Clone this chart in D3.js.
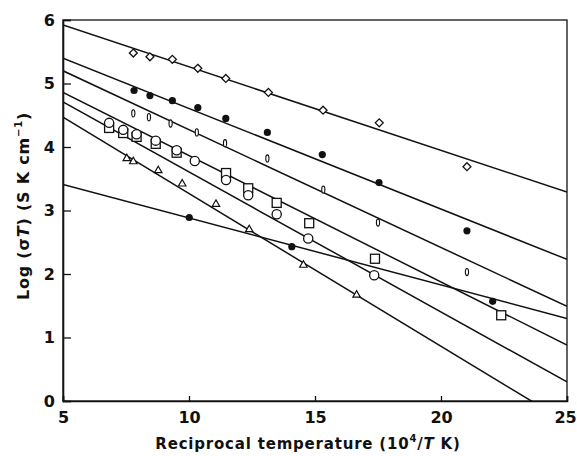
<!DOCTYPE html>
<html><head><meta charset="utf-8">
<script src="https://cdn.jsdelivr.net/npm/d3@7"></script>
<style>body{margin:0;background:#fff}svg{display:block}text{font-family:"DejaVu Sans",sans-serif;fill:#111}</style>
</head><body><svg id="c" width="577" height="456"></svg>
<script>
const xTicks = [5, 10, 15, 20, 25];
const yTicks = [0, 1, 2, 3, 4, 5, 6];

const diamondX = [7.79, 8.45, 9.34, 10.35, 11.46, 13.15, 15.32, 17.55, 21.03];
const diamondY = [5.48, 5.42, 5.38, 5.24, 5.08, 4.86, 4.58, 4.38, 3.69];
const dotX = [7.82, 8.45, 9.34, 10.35, 11.46, 13.11, 15.29, 17.54, 21.03];
const dotY = [4.89, 4.81, 4.73, 4.62, 4.45, 4.23, 3.88, 3.44, 2.68];
const ovalX = [7.79, 8.41, 9.27, 10.31, 11.43, 13.11, 15.33, 17.5, 21.03];
const ovalY = [4.53, 4.47, 4.37, 4.23, 4.06, 3.82, 3.33, 2.81, 2.03];
const squareX = [6.83, 7.39, 7.92, 8.68, 9.51, 11.47, 12.35, 13.48, 14.77, 17.38, 22.39];
const squareY = [4.30, 4.22, 4.16, 4.05, 3.91, 3.59, 3.35, 3.12, 2.80, 2.24, 1.35];
const circleX = [6.83, 7.39, 7.92, 8.68, 9.51, 10.23, 11.47, 12.35, 13.48, 14.73, 17.35];
const circleY = [4.38, 4.27, 4.20, 4.10, 3.95, 3.78, 3.48, 3.24, 2.94, 2.56, 1.98];
const triX = [7.53, 7.79, 8.78, 9.73, 11.07, 12.39, 14.54, 16.65];
const triY = [3.82, 3.77, 3.63, 3.42, 3.10, 2.70, 2.14, 1.67];
const dot2X = [10.01, 14.08, 22.05];
const dot2Y = [2.89, 2.43, 1.57];

// fitted straight lines: value at x=5 and at x=25
const fitX = [5, 25];
const fitStart = [5.92, 5.40, 5.20, 4.86, 4.71, 4.47, 3.41];
const fitEnd = [3.29, 2.23, 1.49, 0.88, 0.30, -0.34, 1.30];

const svg = d3.select("#c");
const L = 63, R = 567, T = 20, B = 401;
const x = d3.scaleLinear().domain([5, 25]).range([L, R]);
const y = d3.scaleLinear().domain([0, 6]).range([B, T]);

svg.append("defs").append("clipPath").attr("id", "clip")
  .append("rect").attr("x", L).attr("y", T).attr("width", R - L).attr("height", B - T);

// frame
svg.append("rect").attr("x", L).attr("y", T).attr("width", R - L).attr("height", B - T)
  .attr("fill", "none").attr("stroke", "#111").attr("stroke-width", 1.3);

// axes with inward ticks
const xAxis = d3.axisBottom(x).tickValues(xTicks).tickSize(-5).tickPadding(11).tickFormat(d3.format("d"));
const gx = svg.append("g").attr("transform", `translate(0,${B})`).call(xAxis);
const yAxis = d3.axisLeft(y).tickValues(yTicks).tickSize(-8).tickPadding(12).tickFormat(d3.format("d"));
const gy = svg.append("g").attr("transform", `translate(${L},0)`).call(yAxis);
[gx, gy].forEach(g => {
  g.select(".domain").attr("stroke", "#111").attr("stroke-width", 1.6);
  g.selectAll(".tick line").attr("stroke", "#111").attr("stroke-width", 1.3);
  g.selectAll(".tick text").attr("font-size", 16).attr("font-weight", "bold").attr("fill", "#111")
    .style("font-family", "'DejaVu Sans',sans-serif");
});
gy.selectAll(".tick text").attr("dx", 4);
gx.selectAll(".tick text").filter(d => d === 25).attr("dx", -2);

// fit lines
const plot = svg.append("g").attr("clip-path", "url(#clip)");
const lineGen = d3.line().x(d => x(d[0])).y(d => y(d[1]));
fitStart.forEach((s, i) => {
  plot.append("path").datum([[fitX[0], s], [fitX[1], fitEnd[i]]])
    .attr("d", lineGen).attr("fill", "none").attr("stroke", "#111").attr("stroke-width", 1.5);
});

const zip = (xs, ys) => xs.map((v, i) => [v, ys[i]]);
const mk = svg.append("g");
// diamonds
mk.selectAll(".dm").data(zip(diamondX, diamondY)).join("path")
  .attr("d", d3.symbol(d3.symbolDiamond2, 40))
  .attr("transform", d => `translate(${x(d[0])},${y(d[1])})`)
  .attr("fill", "#fff").attr("stroke", "#111").attr("stroke-width", 1.3);
// filled dots
mk.selectAll(".fd").data(zip(dotX, dotY).concat(zip(dot2X, dot2Y))).join("circle")
  .attr("cx", d => x(d[0])).attr("cy", d => y(d[1])).attr("r", 3.6).attr("fill", "#111");
// ovals
mk.selectAll(".ov").data(zip(ovalX, ovalY)).join("ellipse")
  .attr("cx", d => x(d[0])).attr("cy", d => y(d[1])).attr("rx", 1.6).attr("ry", 3.6)
  .attr("fill", "#fff").attr("stroke", "#111").attr("stroke-width", 1.1);
// squares
mk.selectAll(".sq").data(zip(squareX, squareY)).join("rect")
  .attr("x", d => x(d[0]) - 4.5).attr("y", d => y(d[1]) - 4.5).attr("width", 9).attr("height", 9)
  .attr("fill", "#fff").attr("stroke", "#111").attr("stroke-width", 1.3);
// circles
mk.selectAll(".ci").data(zip(circleX, circleY)).join("circle")
  .attr("cx", d => x(d[0])).attr("cy", d => y(d[1])).attr("r", 4.6)
  .attr("fill", "#fff").attr("stroke", "#111").attr("stroke-width", 1.3);
// triangles
mk.selectAll(".tr").data(zip(triX, triY)).join("path")
  .attr("d", d3.symbol(d3.symbolTriangle2, 40))
  .attr("transform", d => `translate(${x(d[0])},${y(d[1])})`)
  .attr("fill", "#fff").attr("stroke", "#111").attr("stroke-width", 1.2);

// axis titles
const xt = svg.append("text").attr("x", 308).attr("y", 449).attr("text-anchor", "middle")
  .attr("font-size", 15).attr("font-weight", "bold").attr("letter-spacing", 0.8);
xt.append("tspan").text("Reciprocal temperature (10");
xt.append("tspan").attr("font-size", 10).attr("dy", -7).text("4");
xt.append("tspan").attr("dy", 7).text("/");
xt.append("tspan").attr("font-style", "italic").text("T");
xt.append("tspan").text(" K)");

const yt = svg.append("text").attr("transform", "translate(29,206) rotate(-90)").attr("text-anchor", "middle")
  .attr("font-size", 16).attr("font-weight", "bold").attr("letter-spacing", 0.8);
yt.append("tspan").text("Log (σ");
yt.append("tspan").attr("font-style", "italic").text("T");
yt.append("tspan").text(") (S K cm");
yt.append("tspan").attr("font-size", 10).attr("dy", -7).text("−1");
yt.append("tspan").attr("dy", 7).text(")");
</script></body></html>
